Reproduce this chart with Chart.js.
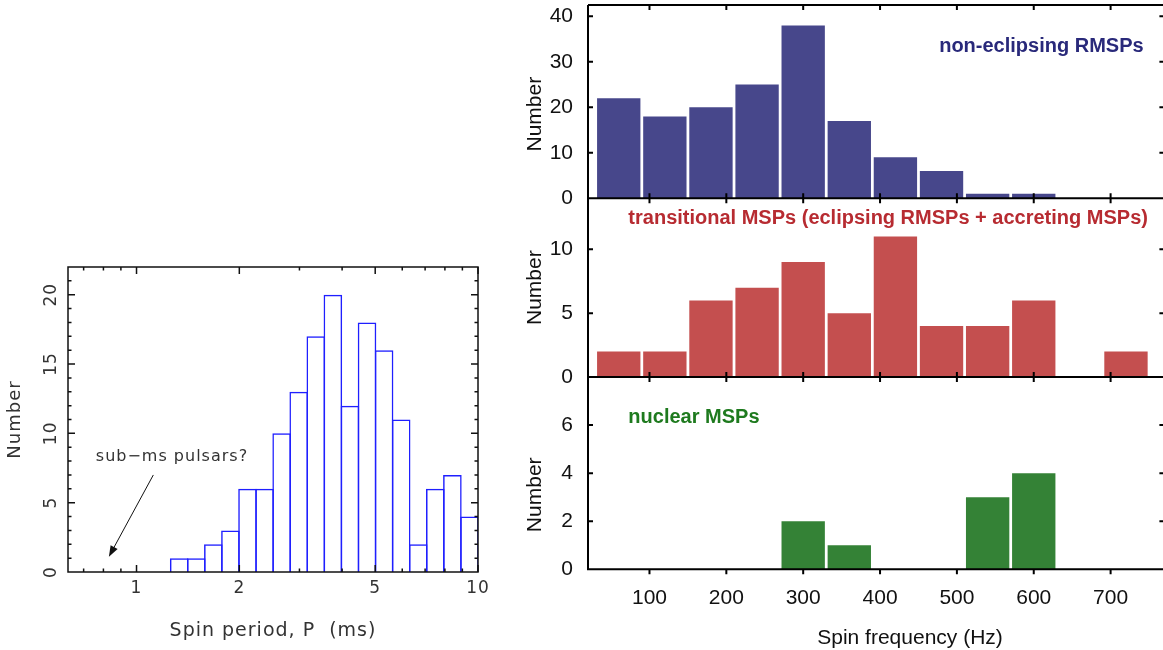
<!DOCTYPE html>
<html>
<head>
<meta charset="utf-8">
<title>MSP spin distributions</title>
<script src="https://cdn.jsdelivr.net/npm/chart.js@4.4.1/dist/chart.umd.min.js"></script>
<style>
  html, body { margin: 0; padding: 0; background: #fff; }
  body { width: 1163px; height: 650px; position: relative; overflow: hidden; }
  .panel { position: absolute; }
</style>
</head>
<body>
<div class="panel" style="left:0;top:240px;width:500px;height:410px"><canvas id="periodChart"></canvas></div>
<div class="panel" style="left:500px;top:-25px;width:680px;height:254px"><canvas id="topChart"></canvas></div>
<div class="panel" style="left:500px;top:168px;width:680px;height:240px"><canvas id="midChart"></canvas></div>
<div class="panel" style="left:500px;top:347px;width:680px;height:313px"><canvas id="botChart"></canvas></div>
<script>
// ---- left: spin period histogram (bins of 0.05 in log10 P) ----
const periodBinWidth = 0.05;
const periodBinStart = [0.10, 0.15, 0.20, 0.25, 0.30, 0.35, 0.40, 0.45, 0.50,
                        0.55, 0.60, 0.65, 0.70, 0.75, 0.80, 0.85, 0.90, 0.95];
const periodCounts = [1, 1, 2, 3, 6, 6, 10, 13, 17, 20, 12, 18, 16, 11, 2, 6, 7, 4];
const periodTickLabels = [1, 2, 5, 10];
const periodMinorTicks = [0.7, 0.8, 0.9, 3, 4, 6, 7, 8, 9];
const periodYTicks = [0, 5, 10, 15, 20];
const subMsNote = { text: 'sub\u2212ms pulsars?', p: 0.76, n: 8.3 };
const subMsArrow = { from: [1.12, 7.0], to: [0.83, 1.1] };

// ---- right: spin frequency histograms (60 Hz bins) ----
const freqBins = [60, 120, 180, 240, 300, 360, 420, 480, 540, 600, 660, 720];
const nonEclipsing = [22, 18, 20, 25, 38, 17, 9, 6, 1, 1, 0, 0];
const transitional = [2, 2, 6, 7, 9, 5, 11, 4, 4, 6, 0, 2];
const nuclear = [0, 0, 0, 0, 2, 1, 0, 0, 3, 4, 0, 0];
const freqTicks = [100, 200, 300, 400, 500, 600, 700];
const topYTicks = [0, 10, 20, 30, 40];
const midYTicks = [0, 5, 10];
const botYTicks = [0, 2, 4, 6];

const pgFont = 'DejaVu Sans';
const pgInk = '#333';
const sans = 'Liberation Sans';

// frame, tick marks and the arrow note of the period histogram
const periodFrame = {
  id: 'periodFrame',
  beforeDraw(chart) {
    chart.ctx.letterSpacing = '1px';   // pgplot-like wide lettering
  },
  afterDatasetsDraw(chart) {
    const { ctx, chartArea: a, scales: { x, y } } = chart;
    ctx.save();
    ctx.strokeStyle = '#111';
    ctx.lineWidth = 1.5;
    ctx.strokeRect(a.left, a.top, a.width, a.height);
    ctx.beginPath();
    for (let v = 1; v < y.max; v++) {
      const py = y.getPixelForValue(v);
      const len = v % 5 ? 3.5 : 7;
      ctx.moveTo(a.left, py); ctx.lineTo(a.left + len, py);
      ctx.moveTo(a.right, py); ctx.lineTo(a.right - len, py);
    }
    const xt = periodTickLabels.map(p => [p, 7]).concat(periodMinorTicks.map(p => [p, 3.5]));
    xt.forEach(([p, len]) => {
      const px = x.getPixelForValue(Math.log10(p));
      ctx.moveTo(px, a.bottom); ctx.lineTo(px, a.bottom - len);
      ctx.moveTo(px, a.top); ctx.lineTo(px, a.top + len);
    });
    ctx.stroke();

    // note + arrow
    ctx.fillStyle = pgInk;
    ctx.font = '16px "' + pgFont + '"';
    ctx.textBaseline = 'middle';
    ctx.textAlign = 'left';
    ctx.fillText(subMsNote.text, x.getPixelForValue(Math.log10(subMsNote.p)), y.getPixelForValue(subMsNote.n));
    const x0 = x.getPixelForValue(Math.log10(subMsArrow.from[0]));
    const y0 = y.getPixelForValue(subMsArrow.from[1]);
    const x1 = x.getPixelForValue(Math.log10(subMsArrow.to[0]));
    const y1 = y.getPixelForValue(subMsArrow.to[1]);
    const ang = Math.atan2(y1 - y0, x1 - x0);
    ctx.strokeStyle = '#111';
    ctx.lineWidth = 1;
    ctx.beginPath();
    ctx.moveTo(x0, y0);
    ctx.lineTo(x1 - 8 * Math.cos(ang), y1 - 8 * Math.sin(ang));
    ctx.stroke();
    ctx.fillStyle = '#111';
    ctx.beginPath();
    ctx.moveTo(x1, y1);
    ctx.lineTo(x1 - 11 * Math.cos(ang) + 4 * Math.sin(ang), y1 - 11 * Math.sin(ang) - 4 * Math.cos(ang));
    ctx.lineTo(x1 - 11 * Math.cos(ang) - 4 * Math.sin(ang), y1 - 11 * Math.sin(ang) + 4 * Math.cos(ang));
    ctx.closePath();
    ctx.fill();
    ctx.restore();
  }
};

new Chart(document.getElementById('periodChart'), {
  type: 'bar',
  data: {
    datasets: [{
      data: periodBinStart.map((s, i) => ({ x: s + periodBinWidth / 2, y: periodCounts[i] })),
      backgroundColor: 'rgba(0,0,0,0)',
      borderColor: '#1f1fff',
      borderWidth: 1.5,
      borderSkipped: 'bottom',
      barPercentage: 1.09,
      categoryPercentage: 1
    }]
  },
  options: {
    responsive: true,
    maintainAspectRatio: false,
    animation: false,
    layout: { padding: { top: 27, right: 22, bottom: 0, left: 0 } },
    plugins: { legend: { display: false }, tooltip: { enabled: false } },
    scales: {
      x: {
        type: 'linear',
        min: Math.log10(0.63),
        max: 1,
        offset: false,
        grid: { display: false, drawTicks: false },
        border: { display: false },
        afterBuildTicks: s => { s.ticks = periodTickLabels.map(p => ({ value: Math.log10(p) })); },
        ticks: {
          autoSkip: false, maxRotation: 0, padding: 6, color: pgInk,
          font: { family: pgFont, size: 17 },
          callback: (v, i) => periodTickLabels[i]
        },
        title: {
          display: true, text: 'Spin period, P  (ms)', color: pgInk,
          font: { family: pgFont, size: 19 }, padding: { top: 0, bottom: 8 }
        },
        afterFit: s => { s.height = 78; }
      },
      y: {
        min: 0,
        max: 22,
        grid: { display: false, drawTicks: false },
        border: { display: false },
        afterBuildTicks: s => { s.ticks = periodYTicks.map(v => ({ value: v })); },
        ticks: {
          minRotation: 90, maxRotation: 90, crossAlign: 'center', padding: 6, color: pgInk,
          font: { family: pgFont, size: 17 }
        },
        title: {
          display: true, text: 'Number', color: pgInk,
          font: { family: pgFont, size: 18 }, padding: { top: 5, bottom: 0 }
        },
        afterFit: s => { s.width = 68; }
      }
    }
  },
  plugins: [periodFrame]
});

// axes lines, inward ticks and labels of the frequency panels
const freqFrame = {
  id: 'freqFrame',
  afterDatasetsDraw(chart, args, opts) {
    const { ctx, chartArea: a, scales: { x, y } } = chart;
    ctx.save();
    ctx.strokeStyle = '#000';
    ctx.lineWidth = 2;
    ctx.beginPath();
    ctx.moveTo(a.left, a.top); ctx.lineTo(a.left, a.bottom); ctx.lineTo(a.right, a.bottom);
    if (opts.topLine) { ctx.moveTo(a.left, a.top); ctx.lineTo(a.right, a.top); }
    freqTicks.forEach(v => {
      const px = x.getPixelForValue(v);
      ctx.moveTo(px, a.top); ctx.lineTo(px, a.top + 5);
      ctx.moveTo(px, a.bottom); ctx.lineTo(px, opts.outerTicks ? a.bottom + 5 : a.bottom - 5);
    });
    opts.yTicks.forEach(v => {
      if (!v) return;
      const py = y.getPixelForValue(v);
      ctx.moveTo(a.left, py); ctx.lineTo(a.left + 5, py);
      ctx.moveTo(a.right, py); ctx.lineTo(a.right - 5, py);
    });
    ctx.stroke();

    ctx.textBaseline = 'middle';
    ctx.font = 'bold 20px "' + sans + '"';
    ctx.fillStyle = opts.labelColor;
    ctx.textAlign = opts.labelAlign;
    ctx.fillText(opts.label, x.getPixelForValue(opts.labelAt[0]), y.getPixelForValue(opts.labelAt[1]));

    ctx.font = '21px "' + sans + '"';
    ctx.fillStyle = '#111';
    if (opts.xTitle) {
      ctx.textAlign = 'center';
      ctx.fillText(opts.xTitle, x.getPixelForValue(opts.xTitleAt), a.bottom + 69);
    }
    ctx.translate(a.left - 53, y.getPixelForValue(opts.numberAt));
    ctx.rotate(-Math.PI / 2);
    ctx.textAlign = 'center';
    ctx.fillText('Number', 0, 0);
    ctx.restore();
  }
};

function freqPanel(id, counts, color, yMax, yTicks, pad, frame, showX) {
  return new Chart(document.getElementById(id), {
    type: 'bar',
    data: {
      datasets: [{
        data: freqBins.map((f, i) => ({ x: f, y: counts[i] })),
        backgroundColor: color,
        borderWidth: 0,
        barPercentage: 0.94,
        categoryPercentage: 1
      }]
    },
    options: {
      responsive: true,
      maintainAspectRatio: false,
      animation: false,
      layout: { padding: pad },
      plugins: { legend: { display: false }, tooltip: { enabled: false }, freqFrame: frame },
      scales: {
        x: {
          type: 'linear',
          display: showX,
          min: 20,
          max: 770,
          offset: false,
          grid: { display: false, drawTicks: false },
          border: { display: false },
          afterBuildTicks: s => { s.ticks = freqTicks.map(v => ({ value: v })); },
          ticks: { autoSkip: false, maxRotation: 0, padding: 16, color: '#111', font: { family: sans, size: 21 } },
          afterFit: s => { if (showX) s.height = 90.7; }
        },
        y: {
          min: 0,
          max: yMax,
          grid: { display: false, drawTicks: false },
          border: { display: false },
          afterBuildTicks: s => { s.ticks = yTicks.map(v => ({ value: v })); },
          ticks: { padding: 15, color: '#111', font: { family: sans, size: 21 } },
          afterFit: s => { s.width = 88; }
        }
      }
    },
    plugins: [freqFrame]
  });
}

freqPanel('topChart', nonEclipsing, '#47478b', 42.5, topYTicks,
  { top: 30, right: 15.6, bottom: 30.7, left: 0 },
  { yTicks: topYTicks, topLine: true, label: 'non-eclipsing RMSPs', labelColor: '#29297a',
    labelAlign: 'right', labelAt: [743, 33.3], numberAt: 18.5 }, false);

freqPanel('midChart', transitional, '#c44f4f', 14, midYTicks,
  { top: 30.3, right: 15.6, bottom: 31, left: 0 },
  { yTicks: midYTicks, label: 'transitional MSPs (eclipsing RMSPs + accreting MSPs)', labelColor: '#b72b31',
    labelAlign: 'left', labelAt: [72.5, 12.4], numberAt: 7 }, false);

freqPanel('botChart', nuclear, '#348236', 8, botYTicks,
  { top: 30, right: 15.6, bottom: 0, left: 0 },
  { yTicks: botYTicks, outerTicks: true, label: 'nuclear MSPs', labelColor: '#1e7a1e',
    labelAlign: 'left', labelAt: [72.5, 6.33], numberAt: 3.1,
    xTitle: 'Spin frequency (Hz)', xTitleAt: 439 }, true);
</script>
</body>
</html>
